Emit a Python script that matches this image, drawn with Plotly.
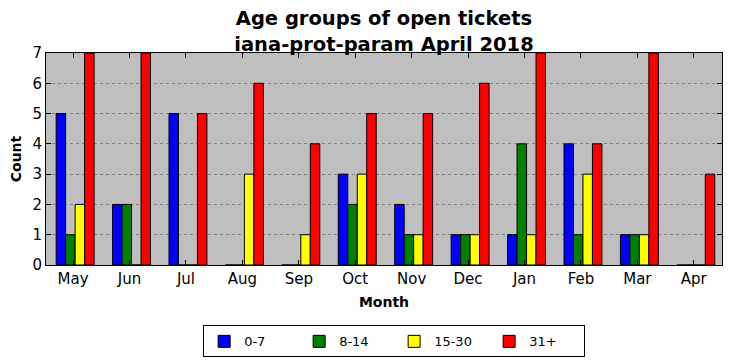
import plotly.graph_objects as go

months = ["May", "Jun", "Jul", "Aug", "Sep", "Oct", "Nov", "Dec", "Jan", "Feb", "Mar", "Apr"]
age_0_7 = [5, 2, 5, 0, 0, 3, 2, 1, 1, 4, 1, 0]
age_8_14 = [1, 2, 0, 0, 0, 2, 1, 1, 4, 1, 1, 0]
age_15_30 = [2, 0, 0, 3, 1, 3, 1, 1, 1, 3, 1, 0]
age_31p = [7, 7, 5, 6, 4, 5, 5, 6, 7, 4, 7, 3]

series = [("0-7", age_0_7, "#0000ff"), ("8-14", age_8_14, "#008000"),
          ("15-30", age_15_30, "#ffff00"), ("31+", age_31p, "#ff0000")]

W = 0.168
fig = go.Figure()
for i, (name, vals, col) in enumerate(series):
    fig.add_trace(go.Bar(x=months, y=vals, name=name, width=W, offset=-0.30 + i * W,
                         marker=dict(color=col, line=dict(color="black", width=1))))

font = "DejaVu Sans, sans-serif"
fig.update_layout(
    width=724, height=353, barmode="overlay",
    paper_bgcolor="white", plot_bgcolor="#bfbfbf",
    margin=dict(l=38, r=10, t=45, b=96, autoexpand=False),
    font=dict(family=font, color="black"),
    title=dict(text="<b>Age groups of open tickets<br>iana-prot-param April 2018</b>",
               x=0.5, xanchor="center", xref="paper", y=0.951, yanchor="top", yref="container",
               font=dict(size=19.5)),
    showlegend=True,
    legend=dict(orientation="h", x=0.515, xanchor="center", y=-0.285, yanchor="top",
                bordercolor="black", borderwidth=1, font=dict(size=13), bgcolor="white",
                itemwidth=30, entrywidth=50),
    xaxis=dict(range=[-0.48, 11.5], showline=True, linecolor="black", linewidth=1, mirror="ticks",
               ticks="inside", ticklen=5, tickcolor="black", tickfont=dict(size=15), automargin=False,
               title=dict(text="<b>Month</b>", font=dict(size=14), standoff=10), showgrid=False),
    yaxis=dict(range=[0, 7], dtick=1, showline=True, linecolor="black", linewidth=1, mirror="ticks",
               ticks="inside", ticklen=5, tickcolor="black", tickfont=dict(size=15), automargin=False,
               title=dict(text="<b>Count</b>", font=dict(size=14), standoff=8),
               showgrid=True, gridcolor="#808080", griddash="dot", gridwidth=1, zeroline=False),
)
fig.write_html("out.html")
